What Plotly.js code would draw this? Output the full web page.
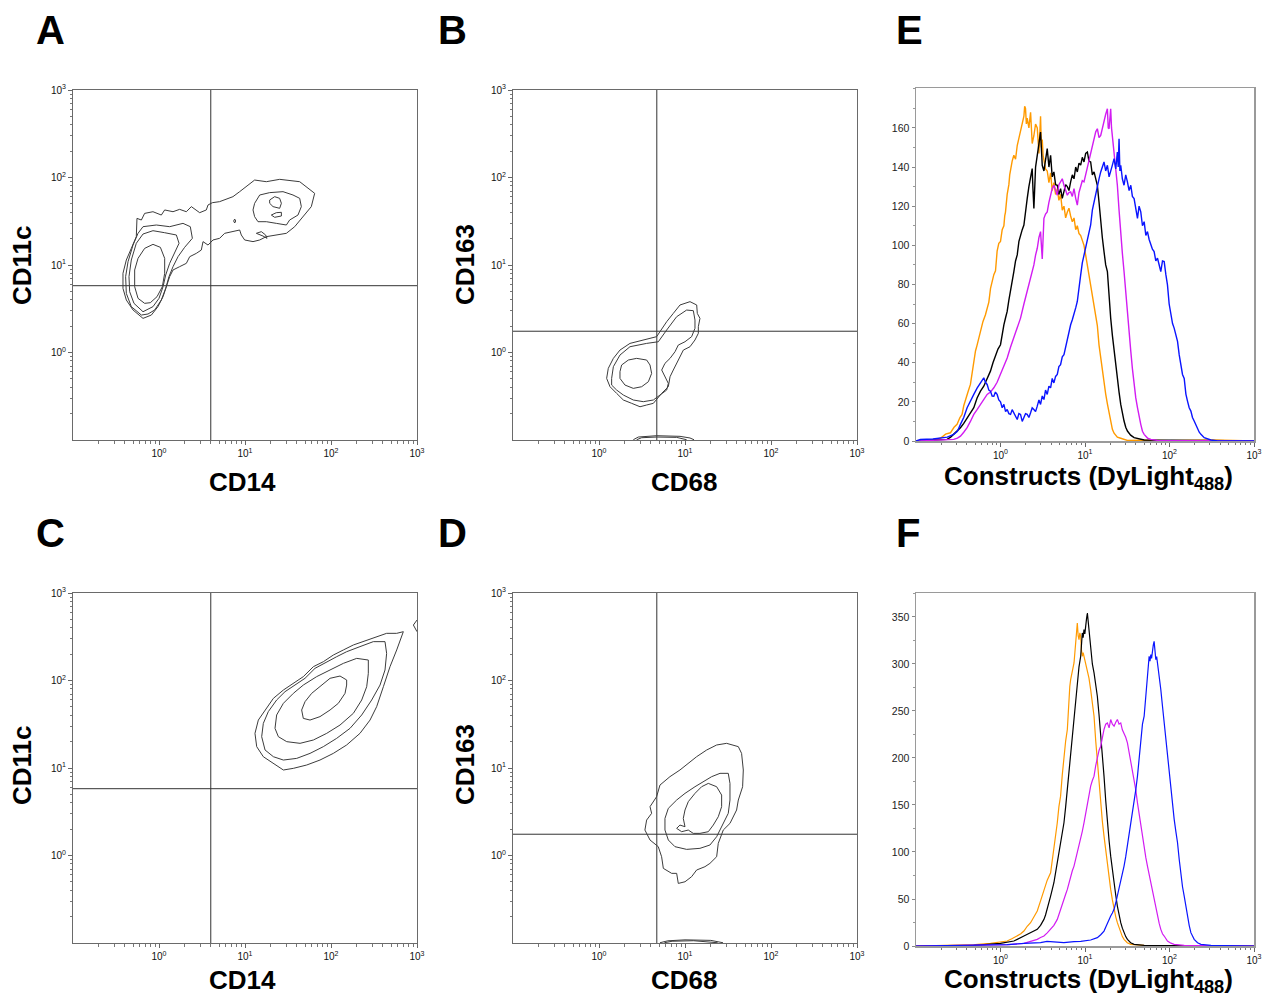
<!DOCTYPE html>
<html>
<head>
<meta charset="utf-8">
<script src="https://cdn.plot.ly/plotly-3.0.1.min.js"></script>
<style>html,body{margin:0;padding:0;background:#fff;}#chart{width:1265px;height:997px;}</style>
</head>
<body>
<div id="chart"></div>
<script>
// ---------- DATA (contour vertices in log10 units: [log10 x, log10 y]) ----------
// Gates (linear units)
const gateA_CD14 = 4.0, gateA_CD11c = 5.8;
const gateB_CD68 = 4.7, gateB_CD163 = 1.75;

// Panel A : CD14 vs CD11c
const A_c1 = [[-0.186,0.390],[-0.302,0.486],[-0.380,0.600],[-0.419,0.733],[-0.419,0.905],[-0.380,1.057],[-0.322,1.190],[-0.264,1.324],[-0.256,1.533],[-0.205,1.514],[-0.167,1.590],[-0.070,1.609],[0.027,1.571],[0.066,1.629],[0.163,1.609],[0.240,1.636],[0.318,1.609],[0.376,1.667],[0.473,1.598],[0.550,1.629],[0.570,1.686],[0.620,1.712],[0.705,1.724],[0.860,1.781],[0.938,1.838],[1.016,1.895],[1.112,1.971],[1.248,1.952],[1.403,1.979],[1.636,1.952],[1.713,1.895],[1.810,1.819],[1.771,1.667],[1.674,1.552],[1.578,1.438],[1.481,1.362],[1.364,1.343],[1.248,1.324],[1.171,1.286],[1.093,1.267],[0.996,1.286],[0.957,1.343],[0.938,1.400],[0.860,1.381],[0.764,1.362],[0.705,1.305],[0.628,1.286],[0.570,1.228],[0.512,1.267],[0.492,1.171],[0.434,1.133],[0.357,1.095],[0.318,1.019],[0.240,0.981],[0.163,0.943],[0.124,0.867],[0.085,0.752],[0.047,0.638],[-0.012,0.524],[-0.089,0.428]];
const A_c2 = [[-0.205,0.428],[-0.322,0.524],[-0.380,0.676],[-0.388,0.867],[-0.360,1.038],[-0.302,1.228],[-0.244,1.362],[-0.186,1.438],[-0.031,1.457],[0.124,1.438],[0.279,1.476],[0.364,1.438],[0.388,1.305],[0.298,1.202],[0.221,1.095],[0.163,0.981],[0.116,0.867],[0.078,0.733],[0.027,0.600],[-0.050,0.486],[-0.128,0.440]];
const A_c3 = [[-0.186,0.466],[-0.291,0.562],[-0.341,0.695],[-0.349,0.867],[-0.322,1.057],[-0.264,1.248],[-0.186,1.354],[-0.070,1.392],[0.066,1.369],[0.202,1.343],[0.233,1.248],[0.182,1.133],[0.124,1.019],[0.078,0.886],[0.047,0.752],[0.000,0.619],[-0.070,0.524]];
const A_c4 = [[-0.167,0.562],[-0.244,0.619],[-0.283,0.752],[-0.283,0.943],[-0.244,1.076],[-0.167,1.190],[-0.070,1.236],[0.016,1.202],[0.066,1.076],[0.066,0.905],[0.039,0.752],[-0.023,0.638],[-0.101,0.569]];
const A_r1 = [[1.112,1.705],[1.171,1.800],[1.287,1.827],[1.442,1.838],[1.558,1.800],[1.636,1.762],[1.655,1.667],[1.616,1.571],[1.519,1.514],[1.481,1.457],[1.364,1.476],[1.248,1.495],[1.151,1.495],[1.112,1.552],[1.093,1.629]];
const A_r2 = [[1.287,1.743],[1.345,1.781],[1.403,1.762],[1.423,1.705],[1.403,1.648],[1.326,1.667],[1.287,1.705]];
const A_r3 = [[1.306,1.571],[1.364,1.598],[1.423,1.602],[1.423,1.560],[1.345,1.545]];
const A_dot = [[0.868,1.503],[0.880,1.525],[0.892,1.503],[0.880,1.480]];
const A_seg = [[1.132,1.362],[1.190,1.381],[1.240,1.343],[1.256,1.305],[1.209,1.331]];

// Panel B : CD68 vs CD163
const B_c1 = [[0.670,0.181],[0.787,0.352],[0.864,0.447],[0.942,0.543],[1.058,0.581],[1.136,0.543],[1.143,0.447],[1.174,0.390],[1.155,0.295],[1.155,0.219],[1.116,0.143],[1.058,0.066],[0.981,0.028],[0.942,-0.048],[0.903,-0.105],[0.864,-0.200],[0.826,-0.277],[0.806,-0.391],[0.729,-0.467],[0.632,-0.581],[0.554,-0.600],[0.477,-0.620],[0.380,-0.581],[0.283,-0.543],[0.205,-0.467],[0.128,-0.391],[0.089,-0.296],[0.108,-0.181],[0.167,-0.067],[0.244,0.028],[0.360,0.104],[0.515,0.143]];
const B_c2 = [[0.147,-0.296],[0.167,-0.162],[0.244,-0.029],[0.360,0.066],[0.554,0.104],[0.690,0.123],[0.787,0.257],[0.903,0.409],[1.019,0.485],[1.097,0.478],[1.116,0.371],[1.116,0.276],[1.077,0.181],[1.000,0.123],[0.922,0.085],[0.884,0.009],[0.826,-0.067],[0.767,-0.124],[0.729,-0.200],[0.767,-0.277],[0.806,-0.353],[0.787,-0.429],[0.709,-0.486],[0.632,-0.543],[0.515,-0.562],[0.399,-0.543],[0.283,-0.486],[0.205,-0.429],[0.147,-0.372]];
const B_c3 = [[0.244,-0.219],[0.263,-0.143],[0.341,-0.086],[0.438,-0.067],[0.554,-0.086],[0.593,-0.143],[0.612,-0.239],[0.574,-0.334],[0.496,-0.391],[0.399,-0.410],[0.302,-0.372],[0.244,-0.296]];
const B_low1 = [[0.399,-0.997],[0.457,-0.966],[0.670,-0.951],[0.942,-0.958],[1.058,-0.977],[1.105,-0.997]];
const B_low2 = [[0.438,-0.997],[0.496,-0.974],[0.670,-0.966],[0.903,-0.970],[1.019,-0.997]];

// Panel C : CD14 vs CD11c
const C_c1 = [[2.841,2.558],[2.764,2.539],[2.647,2.539],[2.531,2.501],[2.415,2.463],[2.260,2.406],[2.144,2.349],[2.027,2.291],[1.911,2.215],[1.795,2.158],[1.678,2.044],[1.562,1.968],[1.446,1.891],[1.330,1.796],[1.233,1.663],[1.155,1.548],[1.116,1.396],[1.136,1.244],[1.213,1.129],[1.330,1.053],[1.446,0.977],[1.562,0.996],[1.717,1.034],[1.872,1.091],[2.027,1.167],[2.182,1.263],[2.337,1.396],[2.454,1.548],[2.531,1.701],[2.609,1.929],[2.686,2.158],[2.764,2.349]];
const C_edge = [[3.0,2.691],[2.958,2.634],[3.0,2.558]];
const C_c2 = [[2.628,2.444],[2.492,2.444],[2.337,2.387],[2.182,2.329],[2.066,2.272],[1.930,2.196],[1.814,2.139],[1.698,2.025],[1.582,1.948],[1.465,1.872],[1.368,1.777],[1.271,1.644],[1.213,1.510],[1.194,1.358],[1.233,1.206],[1.330,1.129],[1.446,1.091],[1.601,1.110],[1.756,1.167],[1.911,1.244],[2.066,1.339],[2.221,1.453],[2.357,1.606],[2.473,1.777],[2.570,1.948],[2.628,2.120],[2.647,2.310]];
const C_c3 = [[2.434,2.234],[2.299,2.253],[2.144,2.196],[1.989,2.120],[1.833,2.044],[1.678,1.948],[1.562,1.853],[1.446,1.739],[1.368,1.606],[1.349,1.453],[1.388,1.358],[1.485,1.301],[1.640,1.282],[1.795,1.320],[1.950,1.396],[2.105,1.491],[2.260,1.625],[2.357,1.777],[2.415,1.929],[2.434,2.082]];
const C_c4 = [[2.182,2.006],[2.105,2.051],[1.989,2.025],[1.892,1.948],[1.775,1.853],[1.698,1.758],[1.659,1.663],[1.678,1.567],[1.756,1.548],[1.872,1.587],[1.989,1.663],[2.085,1.739],[2.163,1.853],[2.182,1.948]];

// Panel D : CD68 vs CD163
const D_c1 = [[1.484,1.282],[1.620,1.244],[1.658,1.167],[1.678,0.977],[1.670,0.786],[1.620,0.634],[1.600,0.520],[1.523,0.367],[1.445,0.291],[1.387,0.139],[1.368,-0.014],[1.290,-0.090],[1.232,-0.128],[1.135,-0.166],[1.077,-0.242],[1.000,-0.300],[0.922,-0.319],[0.903,-0.204],[0.845,-0.204],[0.748,-0.147],[0.728,-0.014],[0.689,0.101],[0.593,0.177],[0.534,0.291],[0.554,0.405],[0.612,0.482],[0.593,0.558],[0.670,0.672],[0.709,0.805],[0.825,0.901],[0.941,0.977],[1.038,1.053],[1.135,1.129],[1.251,1.205],[1.368,1.263]];
const D_c2 = [[1.407,0.939],[1.503,0.939],[1.523,0.824],[1.523,0.634],[1.503,0.482],[1.426,0.329],[1.368,0.215],[1.290,0.120],[1.174,0.082],[1.019,0.070],[0.883,0.101],[0.806,0.177],[0.767,0.291],[0.767,0.424],[0.806,0.539],[0.903,0.634],[1.000,0.710],[1.116,0.786],[1.213,0.843],[1.310,0.901]];
const D_c3 = [[1.271,0.824],[1.368,0.786],[1.426,0.691],[1.426,0.558],[1.387,0.443],[1.329,0.348],[1.271,0.272],[1.174,0.253],[1.096,0.253],[1.038,0.291],[0.961,0.272],[0.903,0.310],[0.941,0.348],[1.000,0.329],[0.980,0.424],[1.000,0.520],[1.038,0.615],[1.116,0.710],[1.193,0.786]];
const D_low1 = [[0.709,-0.997],[0.800,-0.975],[1.000,-0.964],[1.300,-0.970],[1.442,-0.997]];
const D_low2 = [[0.760,-0.997],[0.850,-0.980],[1.100,-0.974],[1.380,-0.997]];

// ---------- Histograms: [log10 intensity, count] ----------
const E_orange = [[-1.0,0],[-0.9,0.5],[-0.8,0.6],[-0.711,1.4],[-0.65,3.5],[-0.593,4.2],[-0.55,7],[-0.514,8.5],[-0.48,12],[-0.455,13.6],[-0.435,18],[-0.415,20.4],[-0.385,25],[-0.356,28.9],[-0.336,35],[-0.316,39],[-0.296,46],[-0.277,49],[-0.257,53],[-0.237,56],[-0.208,61],[-0.178,64.5],[-0.158,68],[-0.138,71],[-0.118,78],[-0.099,81.5],[-0.079,85],[-0.059,87],[-0.05,94],[-0.04,97],[-0.02,101],[0,102],[0.02,108],[0.04,110],[0.05,115],[0.059,117],[0.079,126],[0.099,131],[0.109,136],[0.119,139],[0.138,143],[0.158,146],[0.178,144],[0.198,151],[0.218,155],[0.237,158],[0.257,163],[0.277,166],[0.286,171],[0.296,170],[0.306,162],[0.316,165],[0.336,160],[0.356,168],[0.375,152],[0.395,156],[0.415,162],[0.435,160],[0.455,147],[0.474,166],[0.484,150],[0.494,154],[0.504,146],[0.514,143],[0.533,139],[0.553,138],[0.573,132],[0.593,137],[0.612,128],[0.632,132],[0.652,126],[0.672,129],[0.691,123],[0.711,126],[0.731,118],[0.751,120],[0.771,114],[0.791,117],[0.81,119],[0.83,115],[0.85,112],[0.87,114],[0.89,108],[0.909,110],[0.929,106],[0.949,105],[0.968,103],[0.988,100],[1.008,95],[1.028,90],[1.047,85],[1.067,80],[1.087,75],[1.107,71],[1.127,64],[1.146,59],[1.166,49],[1.186,42],[1.205,36],[1.225,31],[1.245,24],[1.265,19],[1.285,14],[1.304,10],[1.324,6],[1.344,4],[1.383,2],[1.423,1.4],[1.502,0.3],[1.7,0.4],[2.0,0.2],[2.5,0.5],[3.0,0]];
const E_black = [[-1.0,0],[-0.8,0.4],[-0.632,0.8],[-0.59,2],[-0.553,3.4],[-0.51,5],[-0.474,6.8],[-0.435,9],[-0.395,11.9],[-0.356,14],[-0.316,17],[-0.277,22],[-0.237,25.5],[-0.198,28],[-0.158,32.3],[-0.119,35.7],[-0.089,40],[-0.059,44.1],[-0.03,47],[0,49.2],[0.02,55],[0.04,59.4],[0.06,63],[0.079,66.2],[0.099,72],[0.119,76.4],[0.138,82],[0.158,86.6],[0.178,92],[0.198,95.1],[0.218,102],[0.237,105.3],[0.257,108],[0.277,110.4],[0.296,118],[0.316,123.9],[0.336,130],[0.356,134.1],[0.375,139.2],[0.385,128],[0.395,118.8],[0.415,140],[0.435,147.7],[0.455,152],[0.474,157.9],[0.484,148],[0.494,140.9],[0.514,138],[0.533,144],[0.553,149.4],[0.573,140],[0.593,146],[0.612,135],[0.632,137.5],[0.652,131],[0.672,130.7],[0.691,126],[0.711,129],[0.731,124],[0.751,127.3],[0.771,131],[0.791,130],[0.81,128],[0.83,132.4],[0.85,136],[0.87,134],[0.89,140],[0.909,137.5],[0.929,142],[0.949,141],[0.968,145],[0.988,142.6],[1.008,147],[1.028,147.7],[1.047,143],[1.067,142.6],[1.087,136],[1.107,137.5],[1.127,133],[1.146,130.7],[1.166,122],[1.186,110.4],[1.205,104],[1.225,96.8],[1.245,90],[1.265,86.6],[1.285,73],[1.304,62.8],[1.324,54],[1.344,45.8],[1.364,38],[1.383,32.3],[1.403,25],[1.423,18.7],[1.442,14],[1.462,10.2],[1.482,7],[1.502,5.1],[1.54,3],[1.581,1.7],[1.7,0.5],[2.0,0.3],[3.0,0]];
const E_magenta = [[-1.0,0],[-0.7,0.3],[-0.553,0.8],[-0.51,1.5],[-0.474,2.5],[-0.435,4.5],[-0.395,6.8],[-0.356,10],[-0.316,13.6],[-0.277,16],[-0.237,18.7],[-0.198,21],[-0.158,23.8],[-0.119,25],[-0.079,27.2],[-0.04,30],[0,34],[0.04,38],[0.079,42.4],[0.119,48],[0.158,52.6],[0.198,58],[0.237,62.8],[0.277,70],[0.316,76.4],[0.336,80],[0.356,83.2],[0.375,87],[0.395,90],[0.415,95],[0.435,98.5],[0.455,104],[0.474,107],[0.494,93],[0.514,113.8],[0.533,116],[0.553,117.1],[0.573,122],[0.593,125.6],[0.612,129],[0.632,130.7],[0.652,128],[0.672,125.6],[0.691,131],[0.711,132.4],[0.731,134],[0.751,130.7],[0.771,128],[0.791,125.6],[0.81,127],[0.83,127.3],[0.85,125],[0.87,129],[0.89,124],[0.909,120.5],[0.929,127],[0.949,130.7],[0.968,133],[0.988,132.4],[1.008,136],[1.028,139.2],[1.047,144],[1.067,147.7],[1.087,151],[1.107,154.5],[1.127,158],[1.146,159.6],[1.166,155],[1.186,156.2],[1.205,160],[1.225,163],[1.245,167],[1.265,169.8],[1.275,160],[1.285,159.6],[1.295,165],[1.304,169.8],[1.314,160],[1.324,156.2],[1.344,147.7],[1.364,140],[1.383,130.7],[1.403,118],[1.423,105.3],[1.442,96],[1.462,86.6],[1.482,76],[1.502,62.8],[1.522,54],[1.542,45.8],[1.561,37],[1.581,28.9],[1.601,22],[1.621,17],[1.64,12],[1.66,8.5],[1.68,5],[1.7,3.4],[1.74,1.5],[1.779,0.8],[1.858,0.3],[2.2,0.3],[3.0,0]];
const E_blue = [[-1.0,0],[-0.949,0.8],[-0.8,1],[-0.711,1.4],[-0.63,2],[-0.553,3.4],[-0.51,5],[-0.474,8.5],[-0.435,12],[-0.395,17],[-0.356,20],[-0.316,23.8],[-0.277,27],[-0.237,29.7],[-0.218,31],[-0.198,32.3],[-0.178,30],[-0.158,28.9],[-0.138,26],[-0.119,25.5],[-0.099,23],[-0.079,22.9],[-0.06,25],[-0.04,23.8],[-0.02,21],[0,20],[0.02,17],[0.04,18.7],[0.06,15],[0.079,16.1],[0.099,14],[0.119,13.6],[0.138,16],[0.158,14.4],[0.178,12],[0.198,11],[0.218,14],[0.237,13.6],[0.257,10],[0.277,11.9],[0.296,14],[0.316,13.6],[0.336,12],[0.356,14.4],[0.375,17],[0.395,16.1],[0.415,15],[0.435,17.8],[0.455,21],[0.474,18.7],[0.494,23],[0.514,21.2],[0.533,26],[0.553,23.8],[0.573,28],[0.593,27.2],[0.612,32],[0.632,29.7],[0.652,33],[0.672,34],[0.691,38],[0.711,39],[0.731,43],[0.751,44.1],[0.771,48],[0.791,50.9],[0.81,56],[0.83,59.4],[0.85,62],[0.87,64.5],[0.89,68],[0.909,71.3],[0.929,80],[0.949,84.9],[0.968,91],[0.988,95.1],[1.008,98],[1.028,101.9],[1.047,106],[1.067,110.4],[1.087,118],[1.107,122.2],[1.127,127],[1.146,130.7],[1.166,134],[1.186,137.5],[1.205,140],[1.225,142.6],[1.245,138],[1.265,140.9],[1.285,135],[1.304,137.5],[1.324,141],[1.344,144.3],[1.364,139],[1.383,147.7],[1.393,140],[1.403,154.5],[1.413,138],[1.423,140.9],[1.442,134],[1.462,130.7],[1.482,136],[1.502,132.4],[1.522,128],[1.542,130.7],[1.561,125],[1.581,123.9],[1.601,118],[1.621,113.8],[1.64,120],[1.66,117.1],[1.68,110],[1.7,112.1],[1.72,105],[1.739,107],[1.759,103],[1.779,100.2],[1.798,98],[1.818,96.8],[1.838,92],[1.858,93.4],[1.878,90],[1.897,86.6],[1.917,92],[1.937,91.7],[1.957,85],[1.976,79.8],[1.996,70],[2.016,64.5],[2.036,60],[2.055,57.7],[2.075,54],[2.095,50.9],[2.115,44],[2.134,39],[2.154,34],[2.174,32],[2.194,24],[2.213,20.4],[2.233,17],[2.253,15.3],[2.272,12],[2.292,10.2],[2.312,8],[2.332,6.8],[2.352,4.5],[2.372,3.4],[2.411,1.7],[2.49,0.5],[2.569,0],[3.0,0]];

const F_orange = [[-1.0,0],[-0.514,0.7],[-0.3,1.5],[-0.119,2.8],[0,4],[0.079,5.3],[0.14,8],[0.198,10.6],[0.24,13],[0.277,15.9],[0.316,21],[0.356,24.8],[0.395,31],[0.435,37.2],[0.474,48],[0.514,60.2],[0.553,70],[0.593,77.9],[0.612,90],[0.632,102.7],[0.652,118],[0.672,131.1],[0.691,148],[0.711,159.4],[0.731,182],[0.751,201.9],[0.771,218],[0.791,230.3],[0.8,250],[0.81,269.2],[0.82,276],[0.83,283.4],[0.85,292],[0.87,301.1],[0.88,312],[0.889,322.4],[0.899,335],[0.909,343.6],[0.919,330],[0.929,325.9],[0.939,333],[0.949,329.4],[0.958,315],[0.968,308.2],[0.978,312],[0.988,308.2],[1.008,300],[1.028,294],[1.047,285],[1.067,272.8],[1.087,258],[1.107,244.4],[1.127,218],[1.146,194.8],[1.166,172],[1.186,152.3],[1.205,133],[1.225,116.9],[1.245,101],[1.265,88.6],[1.285,74],[1.304,60.2],[1.324,49],[1.344,39],[1.364,31],[1.383,24.8],[1.403,19],[1.423,14.2],[1.442,10],[1.462,7.1],[1.5,3.5],[1.542,1.8],[1.7,0.7],[2.0,0.5],[3.0,0]];
const F_black = [[-1.0,0],[-0.316,0.7],[0,2.8],[0.158,5.3],[0.277,10.6],[0.356,14.2],[0.435,17.7],[0.474,22],[0.514,28.3],[0.533,33],[0.553,39],[0.573,46],[0.593,53.1],[0.612,60],[0.632,67.3],[0.652,78],[0.672,88.6],[0.691,100],[0.711,109.8],[0.731,120],[0.751,131.1],[0.771,148],[0.791,166.5],[0.81,188],[0.83,209],[0.85,228],[0.87,244.4],[0.89,265],[0.909,283.4],[0.929,297],[0.949,308.2],[0.958,320],[0.968,333],[0.978,328],[0.988,336.5],[0.998,332],[1.008,343.6],[1.018,348],[1.028,354.2],[1.037,345],[1.047,340.1],[1.057,328],[1.067,315.3],[1.087,300],[1.107,290.5],[1.127,278],[1.146,265.7],[1.166,246],[1.186,226.7],[1.205,204],[1.225,180.7],[1.245,155],[1.265,131.1],[1.285,112],[1.304,95.6],[1.324,80],[1.344,67.3],[1.364,54],[1.383,42.5],[1.403,33],[1.423,24.8],[1.442,19],[1.462,14.2],[1.482,10],[1.502,7.1],[1.54,3.5],[1.581,1.8],[1.7,0.7],[2.0,0.4],[3.0,0]];
const F_magenta = [[-1.0,0],[-0.119,0.7],[0.1,1.5],[0.277,2.8],[0.36,5],[0.435,7.1],[0.474,9],[0.514,10.6],[0.553,14],[0.593,17.7],[0.632,22],[0.672,28.3],[0.691,33],[0.711,39],[0.731,44],[0.751,49.6],[0.771,55],[0.791,60.2],[0.81,67],[0.83,74.4],[0.85,80],[0.87,85],[0.889,92],[0.909,99.2],[0.929,106],[0.949,113.4],[0.968,122],[0.988,131.1],[1.008,142],[1.028,152.3],[1.047,162],[1.067,170],[1.087,176],[1.107,180.7],[1.127,192],[1.146,201.9],[1.166,208],[1.186,212.5],[1.205,222],[1.225,230.3],[1.245,236],[1.265,237.3],[1.285,232],[1.304,240.9],[1.324,236],[1.344,233.8],[1.364,238],[1.383,240.9],[1.403,236],[1.423,237.3],[1.442,230],[1.462,226.7],[1.482,222],[1.502,216.1],[1.522,206],[1.542,198.4],[1.561,188],[1.581,177.1],[1.601,166],[1.621,152.3],[1.64,140],[1.66,131.1],[1.68,116],[1.7,102.7],[1.72,94],[1.739,85],[1.759,76],[1.779,67.3],[1.798,58],[1.818,49.6],[1.838,40],[1.858,31.9],[1.878,24],[1.897,17.7],[1.917,13],[1.937,10.6],[1.957,7.5],[1.976,5.3],[2.016,3],[2.055,1.8],[2.174,0.7],[2.5,0.4],[3.0,0]];
const F_blue = [[-1.0,0],[-0.514,0.7],[0,1.2],[0.079,1.4],[0.277,2.8],[0.474,3.5],[0.55,5],[0.672,4.3],[0.75,3.5],[0.87,4.6],[0.95,5],[1.067,6.4],[1.107,7.5],[1.146,8.9],[1.186,12],[1.225,15.9],[1.245,20],[1.265,24.8],[1.285,28],[1.304,31.9],[1.324,35],[1.344,39],[1.364,46],[1.383,53.1],[1.403,60],[1.423,67.3],[1.442,76],[1.462,85],[1.482,95],[1.502,106.3],[1.522,118],[1.542,131.1],[1.561,141],[1.581,152.3],[1.601,166],[1.621,180.7],[1.64,200],[1.66,223.2],[1.68,236],[1.7,244.4],[1.709,255],[1.719,265.7],[1.729,275],[1.739,283.4],[1.749,298],[1.759,308.2],[1.769,303],[1.779,310],[1.788,306],[1.798,315.3],[1.808,320],[1.818,324.1],[1.828,312],[1.838,304.6],[1.848,308],[1.858,301.1],[1.878,290],[1.897,272.8],[1.917,255],[1.937,237.3],[1.957,220],[1.976,201.9],[1.996,185],[2.016,166.5],[2.036,145.2],[2.055,135],[2.075,122],[2.095,109.8],[2.115,92],[2.134,74.4],[2.154,63],[2.174,53.1],[2.194,42],[2.213,31.9],[2.233,22],[2.253,14.2],[2.272,10],[2.292,7.1],[2.332,3.5],[2.372,1.8],[2.49,0.7],[3.0,0]];

// Tick labels
const logTickVals = [1, 10, 100, 1000];
const logTickText = ['10<sup>0</sup>','10<sup>1</sup>','10<sup>2</sup>','10<sup>3</sup>'];
const logMinorVals = [0.2,0.3,0.4,0.5,0.6,0.7,0.8,0.9,2,3,4,5,6,7,8,9,20,30,40,50,60,70,80,90,200,300,400,500,600,700,800,900];
const E_countTicks = [0,20,40,60,80,100,120,140,160];
const F_countTicks = [0,50,100,150,200,250,300,350];

// ---------- BUILD ----------
const FONT = 'Arial, "Liberation Sans", Helvetica, sans-serif';
const CONTOUR_COLOR = '#3c3c3c';
const traces = [];

function contour(pts, xa, ya, closed) {
  const p = closed === false ? pts : pts.concat([pts[0]]);
  traces.push({x: p.map(d => Math.pow(10, d[0])), y: p.map(d => Math.pow(10, d[1])),
    mode: 'lines', line: {color: CONTOUR_COLOR, width: 1}, xaxis: xa, yaxis: ya,
    hoverinfo: 'skip', showlegend: false});
}
function gate(vx, vy, xa, ya) {
  traces.push({x: [vx, vx], y: [0.1, 1000], mode: 'lines', line: {color: '#333', width: 1}, xaxis: xa, yaxis: ya, hoverinfo: 'skip', showlegend: false});
  traces.push({x: [0.1, 1000], y: [vy, vy], mode: 'lines', line: {color: '#333', width: 1}, xaxis: xa, yaxis: ya, hoverinfo: 'skip', showlegend: false});
}
function hist(pts, color, xa, ya, w) {
  traces.push({x: pts.map(d => Math.pow(10, d[0])), y: pts.map(d => d[1]), mode: 'lines',
    line: {color: color, width: w}, xaxis: xa, yaxis: ya, hoverinfo: 'skip', showlegend: false});
}

// Panel A (x/y)
gate(gateA_CD14, gateA_CD11c, 'x', 'y');
[A_c1, A_c2, A_c3, A_c4, A_r1, A_r2, A_r3, A_dot, A_seg].forEach(c => contour(c, 'x', 'y'));
// Panel B (x2/y2)
gate(gateB_CD68, gateB_CD163, 'x2', 'y2');
[B_c1, B_c2, B_c3].forEach(c => contour(c, 'x2', 'y2'));
contour(B_low1, 'x2', 'y2', false); contour(B_low2, 'x2', 'y2', false);
// Panel E (x3/y3)
hist(E_orange, '#ff9a00', 'x3', 'y3', 1.4);
hist(E_black, '#000000', 'x3', 'y3', 1.4);
hist(E_magenta, '#d21cf2', 'x3', 'y3', 1.4);
hist(E_blue, '#0a14ff', 'x3', 'y3', 1.4);
// Panel C (x4/y4)
gate(gateA_CD14, gateA_CD11c, 'x4', 'y4');
[C_c1, C_c2, C_c3, C_c4].forEach(c => contour(c, 'x4', 'y4'));
contour(C_edge, 'x4', 'y4', false);
// Panel D (x5/y5)
gate(gateB_CD68, gateB_CD163, 'x5', 'y5');
[D_c1, D_c2, D_c3].forEach(c => contour(c, 'x5', 'y5'));
contour(D_low1, 'x5', 'y5', false); contour(D_low2, 'x5', 'y5', false);
// Panel F (x6/y6)
hist(F_orange, '#ff9a00', 'x6', 'y6', 1.2);
hist(F_black, '#000000', 'x6', 'y6', 1.2);
hist(F_magenta, '#d21cf2', 'x6', 'y6', 1.2);
hist(F_blue, '#0a14ff', 'x6', 'y6', 1.2);

const W = 1265, H = 997;
const dx = (a, b) => [a / W, b / W];
const dy = (top, bottom) => [1 - bottom / H, 1 - top / H];

function logAxis(domain, anchor, lineColor, lineWidth) {
  return {type: 'log', range: [-1, 3], domain: domain, anchor: anchor,
    tickmode: 'array', tickvals: logTickVals, ticktext: logTickText,
    ticks: 'outside', ticklen: 4, tickwidth: 1, tickcolor: '#666',
    showline: true, linecolor: lineColor, linewidth: lineWidth, mirror: true,
    showgrid: false, zeroline: false, fixedrange: true,
    tickfont: {family: FONT, size: 10, color: '#111'},
    minor: {tickmode: 'array', tickvals: logMinorVals, ticks: 'outside', ticklen: 2.5, tickwidth: 1, tickcolor: '#777', showgrid: false}};
}
function countAxis(domain, anchor, range, tv, minorStep) {
  return {type: 'linear', range: range, domain: domain, anchor: anchor,
    tickmode: 'array', tickvals: tv, ticks: 'outside', ticklen: 3, tickwidth: 1, tickcolor: '#888',
    showline: true, linecolor: '#9a9a9a', linewidth: 1.5, mirror: true,
    showgrid: false, zeroline: false, fixedrange: true,
    tickfont: {family: FONT, size: 10.5, color: '#222'},
    minor: {dtick: minorStep, tick0: 0, ticks: 'outside', ticklen: 2, tickwidth: 1, tickcolor: '#999', showgrid: false}};
}

const layout = {
  width: W, height: H, margin: {l: 0, r: 0, t: 0, b: 0}, paper_bgcolor: '#fff', plot_bgcolor: '#fff',
  showlegend: false, hovermode: false, font: {family: FONT},
  xaxis:  logAxis(dx(73, 417), 'y', '#6a6a6a', 1),
  yaxis:  logAxis(dy(90, 440), 'x', '#6a6a6a', 1),
  xaxis2: logAxis(dx(513, 857), 'y2', '#6a6a6a', 1),
  yaxis2: logAxis(dy(90, 440), 'x2', '#6a6a6a', 1),
  xaxis3: logAxis(dx(916, 1254), 'y3', '#9a9a9a', 1.5),
  yaxis3: countAxis(dy(88, 441), 'x3', [0, 180.4], E_countTicks, 10),
  xaxis4: logAxis(dx(73, 417), 'y4', '#6a6a6a', 1),
  yaxis4: logAxis(dy(593, 943), 'x4', '#6a6a6a', 1),
  xaxis5: logAxis(dx(513, 857), 'y5', '#6a6a6a', 1),
  yaxis5: logAxis(dy(593, 943), 'x5', '#6a6a6a', 1),
  xaxis6: logAxis(dx(916, 1254), 'y6', '#9a9a9a', 1.5),
  yaxis6: countAxis(dy(593, 946), 'x6', [0, 375.5], F_countTicks, 25),
  annotations: []
};

function note(text, px, py, size, angle) {
  layout.annotations.push({text: text, x: px / W, y: 1 - py / H, xref: 'paper', yref: 'paper',
    xanchor: 'center', yanchor: 'middle', showarrow: false, textangle: angle || 0,
    font: {family: FONT, size: size, color: '#000'}});
}
// Panel letters
note('<b>A</b>', 50, 30, 40); note('<b>B</b>', 452, 30, 40); note('<b>E</b>', 910, 30, 40);
note('<b>C</b>', 50, 533, 40); note('<b>D</b>', 452, 533, 40); note('<b>F</b>', 908, 533, 40);
// Axis titles
note('<b>CD14</b>', 242, 482, 26); note('<b>CD11c</b>', 22, 265, 26, -90);
note('<b>CD68</b>', 684, 482, 26); note('<b>CD163</b>', 465, 265, 26, -90);
note('<b>Constructs (DyLight<sub>488</sub>)</b>', 1088, 478, 26);
note('<b>CD14</b>', 242, 980, 26); note('<b>CD11c</b>', 22, 765, 26, -90);
note('<b>CD68</b>', 684, 980, 26); note('<b>CD163</b>', 465, 765, 26, -90);
note('<b>Constructs (DyLight<sub>488</sub>)</b>', 1088, 980, 26);

Plotly.newPlot('chart', traces, layout, {staticPlot: true, displayModeBar: false});
</script>
</body>
</html>
